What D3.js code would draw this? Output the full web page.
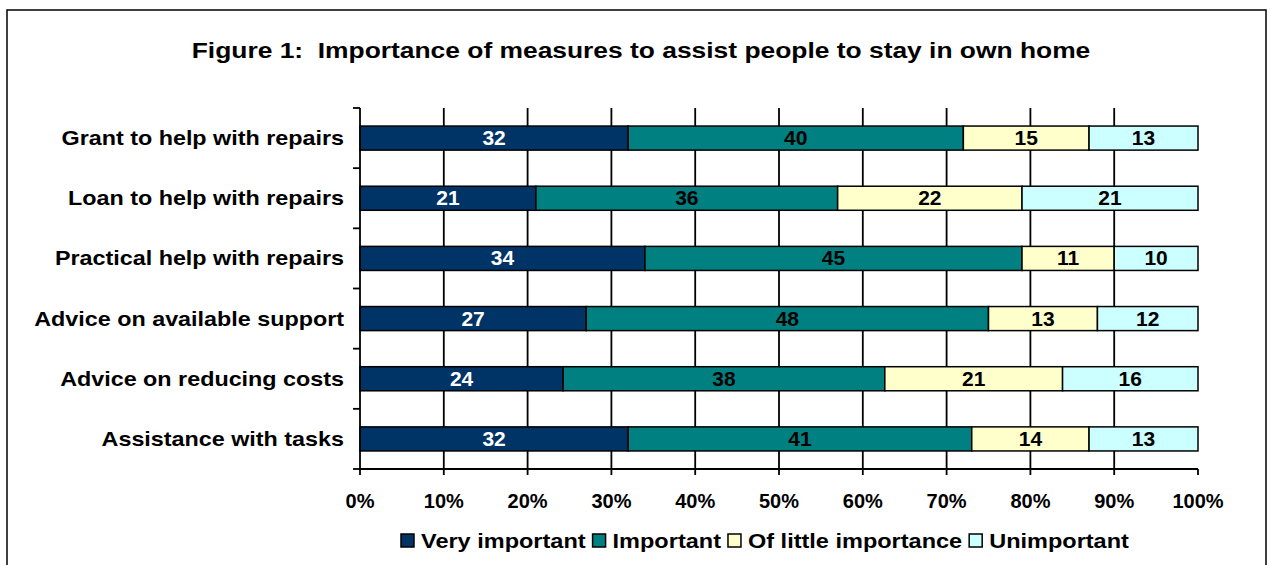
<!DOCTYPE html>
<html>
<head>
<meta charset="utf-8">
<script src="https://cdn.jsdelivr.net/npm/d3@7"></script>
<style>
  body { margin: 0; background: #fff; }
  text { font-family: "Liberation Sans", Arial, sans-serif; font-weight: bold; }
</style>
</head>
<body>
<div id="chart"></div>
<script>
// 数据
const categories = [
    "Grant to help with repairs",
    "Loan to help with repairs",
    "Practical help with repairs",
    "Advice on available support",
    "Advice on reducing costs",
    "Assistance with tasks"
];
const seriesNames = ["Very important", "Important", "Of little importance", "Unimportant"];
const veryImportant = [32, 21, 34, 27, 24, 32];
const important = [40, 36, 45, 48, 38, 41];
const littleImportance = [15, 22, 11, 13, 21, 14];
const unimportant = [13, 21, 10, 12, 16, 13];
const tickLabels = ["0%", "10%", "20%", "30%", "40%", "50%", "60%", "70%", "80%", "90%", "100%"];

const colors = ["#003366", "#008080", "#FFFFCC", "#CCFFFF"];
const labelColors = ["#fff", "#000", "#000", "#000"];

const width = 1277, height = 565;
const svg = d3.select("#chart").append("svg")
    .attr("width", width)
    .attr("height", height);

// 外框
svg.append("rect")
    .attr("x", 7).attr("y", 10)
    .attr("width", 1259).attr("height", 600)
    .attr("fill", "none").attr("stroke", "#000").attr("stroke-width", 1.5);

// 文字横向拉伸
function addText(g, x, y, str, size, anchor, stretch) {
    return g.append("text")
        .attr("transform", `translate(${x},${y}) scale(${stretch},1)`)
        .attr("text-anchor", anchor)
        .attr("font-size", size)
        .text(str);
}

// 标题
addText(svg, 641, 58, "Figure 1:  Importance of measures to assist people to stay in own home", 22, "middle", 1.2)
    .style("white-space", "pre");

const plot = {left: 360, right: 1198, top: 108, bottom: 469};

const x = d3.scaleLinear().domain([0, 1]).range([plot.left, plot.right]);
const y = d3.scaleBand().domain(categories).range([plot.top, plot.bottom]).paddingInner(0.6).paddingOuter(0.3);

// 网格线
const g = svg.append("g");
g.selectAll(".grid")
    .data(d3.range(1, 10).map(d => d / 10))
    .join("line")
    .attr("x1", d => x(d)).attr("x2", d => x(d))
    .attr("y1", plot.top).attr("y2", plot.bottom)
    .attr("stroke", "#000").attr("stroke-width", 1.8);

// 堆叠数据
const rows = categories.map((c, i) => {
    const vals = [veryImportant[i], important[i], littleImportance[i], unimportant[i]];
    const total = d3.sum(vals);
    let acc = 0;
    return vals.map((v, k) => {
        const seg = {cat: c, k, v, x0: acc / total, x1: (acc + v) / total};
        acc += v;
        return seg;
    });
}).flat();

g.selectAll(".bar")
    .data(rows)
    .join("rect")
    .attr("x", d => x(d.x0))
    .attr("y", d => y(d.cat))
    .attr("width", d => x(d.x1) - x(d.x0))
    .attr("height", y.bandwidth())
    .attr("fill", d => colors[d.k])
    .attr("stroke", "#000").attr("stroke-width", 1.5);

rows.forEach(d => {
    addText(g, (x(d.x0) + x(d.x1)) / 2, y(d.cat) + y.bandwidth() / 2 + 7, d.v, 20, "middle", 1.05)
        .attr("fill", labelColors[d.k]);
});

// Y 轴
g.append("line")
    .attr("x1", plot.left).attr("x2", plot.left)
    .attr("y1", plot.top).attr("y2", plot.bottom)
    .attr("stroke", "#000").attr("stroke-width", 1.8);
const yTicks = d3.range(categories.length + 1).map(i => plot.top + i * (plot.bottom - plot.top) / categories.length);
g.selectAll(".ytick")
    .data(yTicks)
    .join("line")
    .attr("x1", plot.left - 7).attr("x2", plot.left)
    .attr("y1", d => d).attr("y2", d => d)
    .attr("stroke", "#000").attr("stroke-width", 1.8);
categories.forEach(c => {
    addText(g, 344, y(c) + y.bandwidth() / 2 + 7, c, 20, "end", 1.167);
});

// X 轴
g.append("line")
    .attr("x1", plot.left).attr("x2", plot.right)
    .attr("y1", plot.bottom).attr("y2", plot.bottom)
    .attr("stroke", "#000").attr("stroke-width", 1.8);
tickLabels.forEach((t, i) => {
    const xv = x(i / 10);
    g.append("line")
        .attr("x1", xv).attr("x2", xv)
        .attr("y1", plot.bottom).attr("y2", plot.bottom + 6)
        .attr("stroke", "#000").attr("stroke-width", 1.8);
    addText(g, xv, 508, t, 20, "middle", 1);
});

// 图例
const legend = svg.append("g");
let lx = 401;
seriesNames.forEach((s, k) => {
    legend.append("rect")
        .attr("x", lx).attr("y", 534)
        .attr("width", 13).attr("height", 13)
        .attr("fill", colors[k]).attr("stroke", "#000").attr("stroke-width", 1.5);
    const t = addText(legend, lx + 20, 548, s, 21, "start", 1.12);
    lx += 20 + t.node().getComputedTextLength() * 1.12 + 7;
});
</script>
</body>
</html>
